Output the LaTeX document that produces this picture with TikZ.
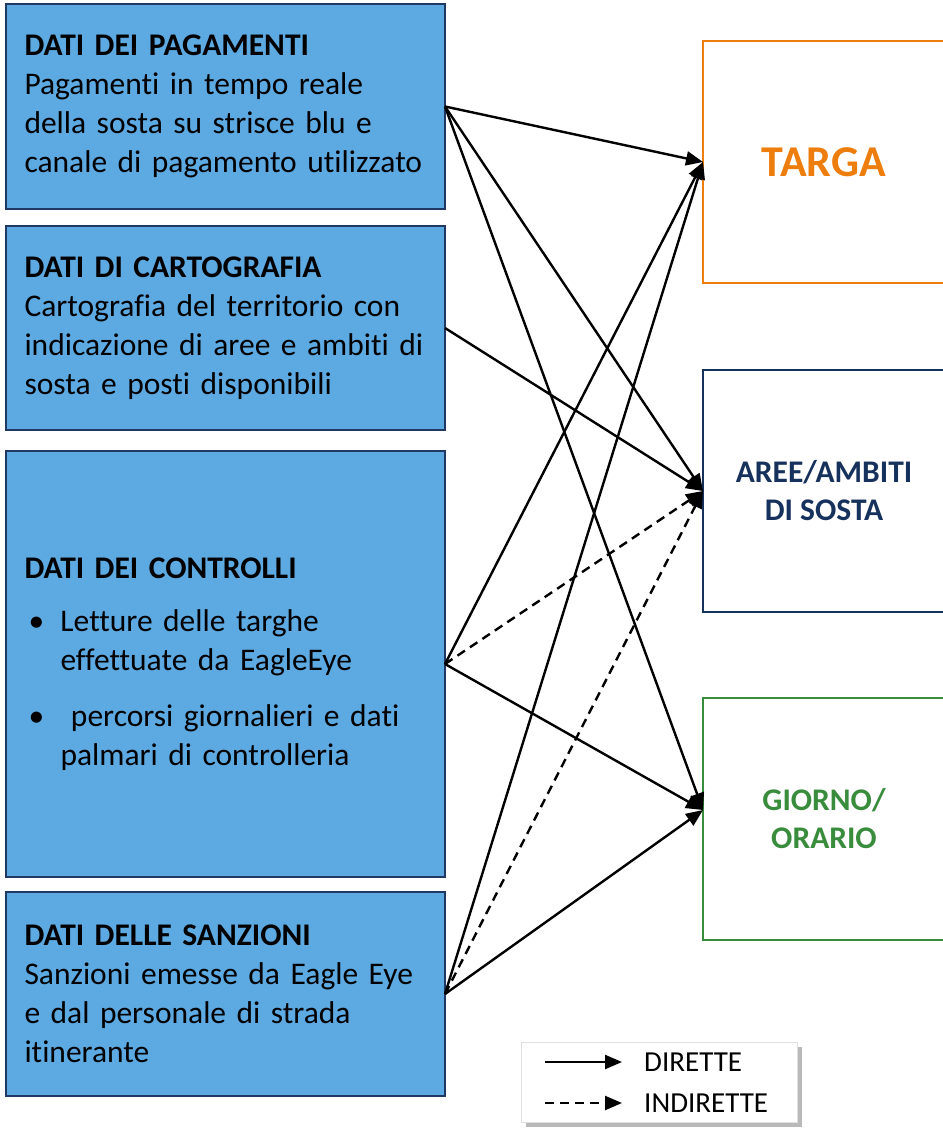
\documentclass[tikz,border=0pt]{standalone}
\usepackage{fontspec}
\setmainfont{Carlito}[Ligatures=NoCommon]
\usetikzlibrary{arrows.meta, positioning, shadows}

\definecolor{boxblue}{RGB}{93,169,225}
\definecolor{boxedge}{RGB}{31,56,100}
\definecolor{targaorange}{RGB}{237,125,12}
\definecolor{areenavy}{RGB}{22,50,92}
\definecolor{orariogreen}{RGB}{56,140,60}

\begin{document}
\begin{tikzpicture}[
  x=1pt, y=-1pt,
  node distance=16pt and 258pt,
  source/.style={rectangle, draw=boxedge, fill=boxblue, line width=1.5pt, outer sep=0pt, text width=402pt, minimum width=439pt, inner xsep=18.5pt, align=left, font=\fontsize{31.5}{39}\selectfont},
  target/.style={rectangle, draw=#1, text=#1, line width=1.5pt, outer sep=0pt, minimum width=242pt, minimum height=242pt, align=center, font=\bfseries\fontsize{31.5}{38}\selectfont},
  arrow/.style={-{Triangle[length=17pt,width=14pt]}, line width=2.4pt},
  indirect/.style={arrow, dash pattern=on 9pt off 6pt},
  legendbox/.style={rectangle, draw=gray!25, fill=white, minimum width=276pt, minimum height=80pt, drop shadow={shadow xshift=5pt, shadow yshift=-5pt, fill=gray!55, opacity=1}},
  legendtext/.style={anchor=west, font=\fontsize{29}{32}\selectfont, inner sep=0pt}
]
\useasboundingbox (0,0) rectangle (942,1129);

% Input nodes
\node[source, minimum height=205pt, anchor=north west] (pagamenti) at (6,4)
  {\textbf{DATI DEI PAGAMENTI}\\Pagamenti in tempo reale\\della sosta su strisce blu e\\canale di pagamento utilizzato};
\node[source, minimum height=204pt, below=17pt of pagamenti] (cartografia)
  {\textbf{DATI DI CARTOGRAFIA}\\Cartografia del territorio con\\indicazione di aree e ambiti di\\sosta e posti disponibili};
\node[source, minimum height=426pt, below=21pt of cartografia] (controlli)
  {\textbf{DATI DEI CONTROLLI}\\[14pt]
   \makebox[36pt][l]{\hspace{4pt}\textbullet}Letture delle targhe\\
   \hspace*{36pt}effettuate da EagleEye\\[17pt]
   \makebox[36pt][l]{\hspace{4pt}\textbullet}\ percorsi giornalieri e dati\\
   \hspace*{36pt}palmari di controlleria\\[-8pt]};
\node[source, minimum height=204pt, below=15pt of controlli] (sanzioni)
  {\textbf{DATI DELLE SANZIONI}\\Sanzioni emesse da Eagle Eye\\e dal personale di strada\\itinerante};

% Target nodes
\node[target=targaorange, anchor=north west, font=\bfseries\fontsize{44}{50}\selectfont] (targa) at (703,41) {TARGA};
\node[target=areenavy, below=87pt of targa] (aree) {AREE/AMBITI\\DI SOSTA};
\node[target=orariogreen, below=86pt of aree] (orario) {GIORNO/\\ORARIO};

\coordinate (orario-in) at ([yshift=9pt]orario.west);

% Arrows
\draw[arrow] (pagamenti.east) -- (targa.west);
\draw[arrow] (pagamenti.east) -- (aree.west);
\draw[arrow] (pagamenti.east) -- (orario-in);
\draw[arrow] (cartografia.east) -- (aree.west);
\draw[arrow] (controlli.east) -- (targa.west);
\draw[indirect] (controlli.east) -- (aree.west);
\draw[arrow] (controlli.east) -- (orario-in);
\draw[arrow] (sanzioni.east) -- (targa.west);
\draw[indirect] (sanzioni.east) -- (aree.west);
\draw[arrow] (sanzioni.east) -- (orario-in);

% Legend
\node[legendbox] (legenda) at (659,1082) {};
\coordinate (dir-a) at (545,1062);
\coordinate (dir-b) at (622,1062);
\coordinate (ind-a) at (545,1103);
\coordinate (ind-b) at (622,1103);
\draw[arrow] (dir-a) -- (dir-b);
\draw[indirect] (ind-a) -- (ind-b);
\node[legendtext, right=22pt of dir-b] (dirette) {DIRETTE};
\node[legendtext, right=22pt of ind-b] (indirette) {INDIRETTE};

\end{tikzpicture}
\end{document}
